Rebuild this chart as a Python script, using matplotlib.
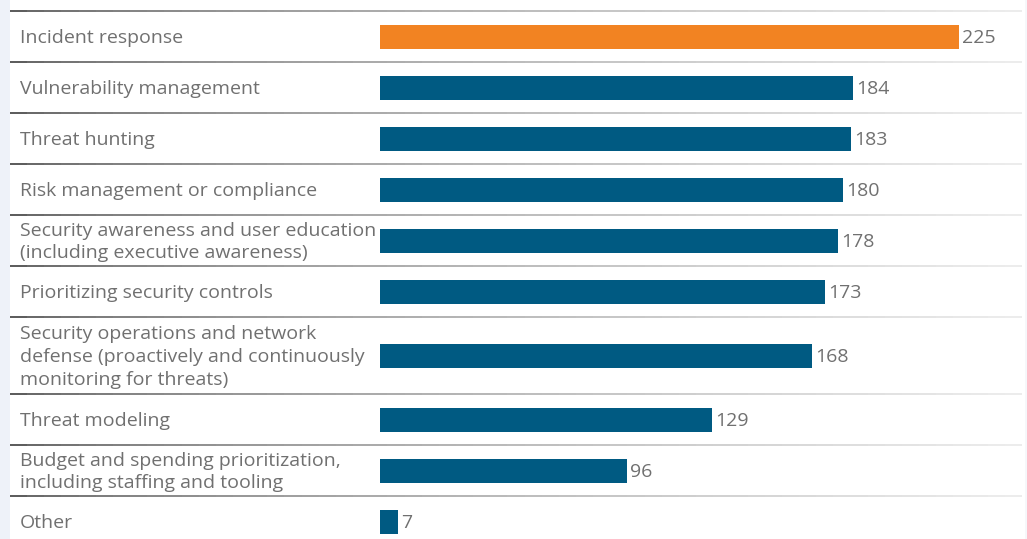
import matplotlib.pyplot as plt
import numpy as np
from matplotlib.collections import LineCollection
from matplotlib.patches import Rectangle

categories = [
    'Incident response',
    'Vulnerability management',
    'Threat hunting',
    'Risk management or compliance',
    'Security awareness and user education\n(including executive awareness)',
    'Prioritizing security controls',
    'Security operations and network\ndefense (proactively and continuously\nmonitoring for threats)',
    'Threat modeling',
    'Budget and spending prioritization,\nincluding staffing and tooling',
    'Other',
]
values = [225, 184, 183, 180, 178, 173, 168, 129, 96, 7]
highlight = 'Incident response'

orange = '#f28322'
blue = '#005a82'
text_col = '#707070'

W, H = 1027, 539
fig = plt.figure(figsize=(W / 100, H / 100), dpi=100)
fig.patch.set_facecolor('white')

# background strips (pixel coords)
bg = fig.add_axes([0, 0, 1, 1])
bg.set_xlim(0, W)
bg.set_ylim(H, 0)
bg.axis('off')
bg.add_patch(Rectangle((0, 0), 10, H, color='#eef2f9', lw=0))
bg.add_patch(Rectangle((1025, 0), 2, H, color='#f6f7fa', lw=0))

# row heights from number of text lines
nlines = [c.count('\n') + 1 for c in categories]
heights = [51 + 26 * max(n - 2, 0) for n in nlines]
edges = 11 + np.concatenate([[0], np.cumsum(heights)])
centers = (edges[:-1] + edges[1:]) / 2

# separators with a gray fade to the right
xs = np.linspace(10, 1022, 60)
for y in edges:
    segs = [[(xs[i], y), (xs[i + 1], y)] for i in range(len(xs) - 1)]
    t = np.linspace(0, 1, len(segs))
    g = 0.3 + 0.62 * t ** 0.6
    cols = [(v, v, v) for v in g]
    bg.add_collection(LineCollection(segs, colors=cols, linewidths=1.3))

for lab, yc in zip(categories, centers):
    bg.text(20, yc + 1.5, lab, ha='left', va='center', fontsize=14, color=text_col,
            family='Open Sans', linespacing=1.33)

# bar axes: x=0 at px 380, x=225 at px 959
x0, x1 = 380, 959
scale = (x1 - x0) / 225
ax = fig.add_axes([x0 / W, 0, (W - x0) / W, 1])
ax.set_xlim(0, (W - x0) / scale)
ax.set_ylim(H, 0)
ax.axis('off')
cols = [orange if c == highlight else blue for c in categories]
ax.barh(centers, values, height=24, color=cols)
for v, yc in zip(values, centers):
    ax.text(v + 1.2, yc + 1.5, str(v), ha='left', va='center', fontsize=14,
            color=text_col, family='Open Sans')

fig.savefig('out.png', dpi=100)
